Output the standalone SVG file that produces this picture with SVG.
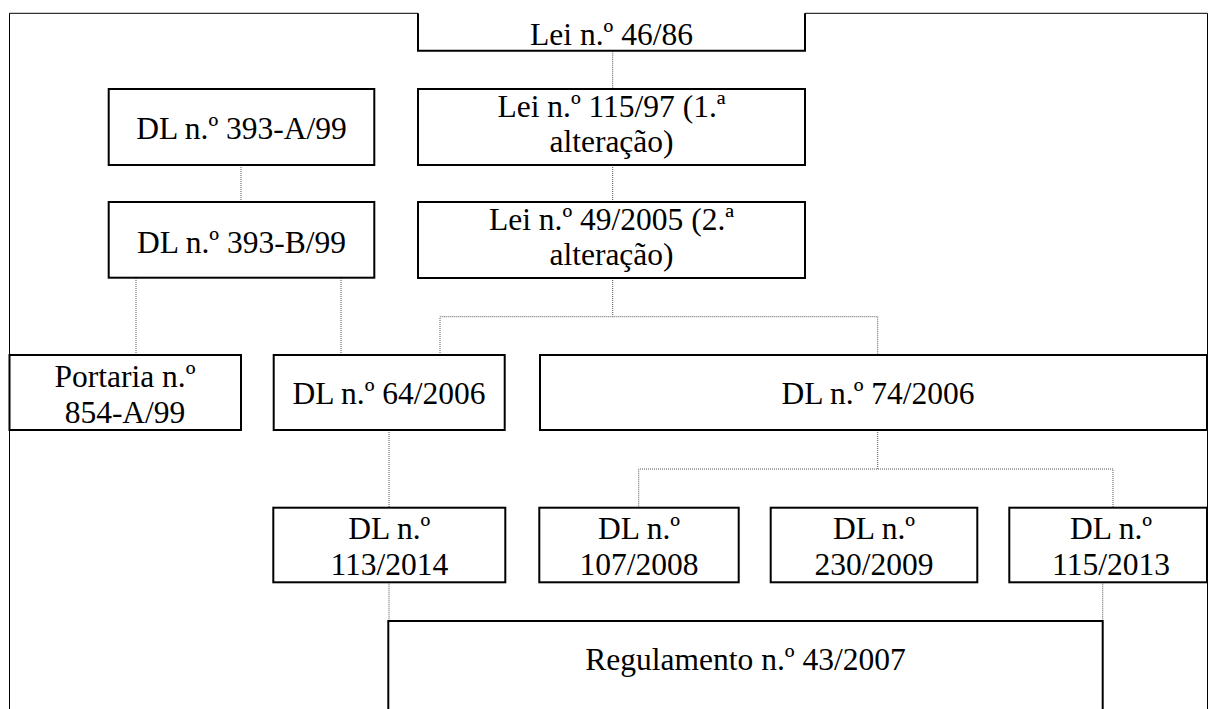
<svg xmlns="http://www.w3.org/2000/svg" width="1208" height="709" viewBox="0 0 1208 709">
<style>
.box{fill:#fff;stroke:#000;stroke-width:2}
.frame{fill:none;stroke:#000;stroke-width:1}
.con{fill:none;stroke:#555;stroke-width:1;stroke-dasharray:1 1}
.t{font-family:'Liberation Serif',serif;font-size:31.5px;fill:#000;text-anchor:middle}
</style>
<rect width="1208" height="709" fill="#fff"/>
<g id="frame">
<path class="frame" d="M9.5,709 V13.3 H418 M805,13.3 H1207.5 V709"/>
</g>
<g id="connectors">
<path class="con" d="M612.7,50.7 V89"/>
<path class="con" d="M612.7,165 V202"/>
<path class="con" d="M241,165 V202"/>
<path class="con" d="M136,278 V355"/>
<path class="con" d="M341,278 V355"/>
<path class="con" d="M612.7,278 V316.7 M440,355 V316.7 H877.7 V355"/>
<path class="con" d="M389,430 V507.7"/>
<path class="con" d="M877.7,430 V469 M638.7,507.7 V469 H1113 V507.7"/>
<path class="con" d="M389,582.3 V621"/>
<path class="con" d="M1102.7,582.3 V621"/>
</g>
<g id="n-lei4686">
<path class="box" d="M418,13.3 V50.7 H805 V13.3"/>
<text class="t" x="611.5" y="45">Lei n.º 46/86</text>
</g>
<g id="n-dl393a">
<rect class="box" x="108.7" y="89" width="265.6" height="76"/>
<text class="t" x="241.5" y="139.3">DL n.º 393-A/99</text>
</g>
<g id="n-lei11597">
<rect class="box" x="418" y="89" width="387" height="76"/>
<text class="t" x="611.5" y="116.7">Lei n.º 115/97 (1.ª</text>
<text class="t" x="611.5" y="151.7">alteração)</text>
</g>
<g id="n-dl393b">
<rect class="box" x="108.7" y="202" width="265.6" height="75.7"/>
<text class="t" x="241.5" y="252.7">DL n.º 393-B/99</text>
</g>
<g id="n-lei492005">
<rect class="box" x="418" y="202" width="387" height="76"/>
<text class="t" x="611.5" y="229.7">Lei n.º 49/2005 (2.ª</text>
<text class="t" x="611.5" y="264.7">alteração)</text>
</g>
<g id="n-portaria">
<rect class="box" x="9.5" y="355" width="231.5" height="75"/>
<text class="t" x="125" y="386.7">Portaria n.º</text>
<text class="t" x="125" y="423.3">854-A/99</text>
</g>
<g id="n-dl642006">
<rect class="box" x="273.7" y="355" width="231" height="75"/>
<text class="t" x="389" y="404">DL n.º 64/2006</text>
</g>
<g id="n-dl742006">
<rect class="box" x="540" y="355" width="667" height="75"/>
<text class="t" x="878" y="404">DL n.º 74/2006</text>
</g>
<g id="n-dl1132014">
<rect class="box" x="273.3" y="507.7" width="232" height="74.6"/>
<text class="t" x="389.3" y="539">DL n.º</text>
<text class="t" x="389.3" y="575">113/2014</text>
</g>
<g id="n-dl1072008">
<rect class="box" x="539.3" y="507.7" width="199.4" height="74.6"/>
<text class="t" x="639" y="539">DL n.º</text>
<text class="t" x="639" y="575">107/2008</text>
</g>
<g id="n-dl2302009">
<rect class="box" x="770.7" y="507.7" width="206.6" height="74.6"/>
<text class="t" x="874" y="539">DL n.º</text>
<text class="t" x="874" y="575">230/2009</text>
</g>
<g id="n-dl1152013">
<rect class="box" x="1009.3" y="507.7" width="197.7" height="74.6"/>
<text class="t" x="1111" y="539">DL n.º</text>
<text class="t" x="1111" y="575">115/2013</text>
</g>
<g id="n-regulamento">
<rect class="box" x="388.3" y="621" width="714.4" height="100"/>
<text class="t" x="745.5" y="670">Regulamento n.º 43/2007</text>
</g>
</svg>
